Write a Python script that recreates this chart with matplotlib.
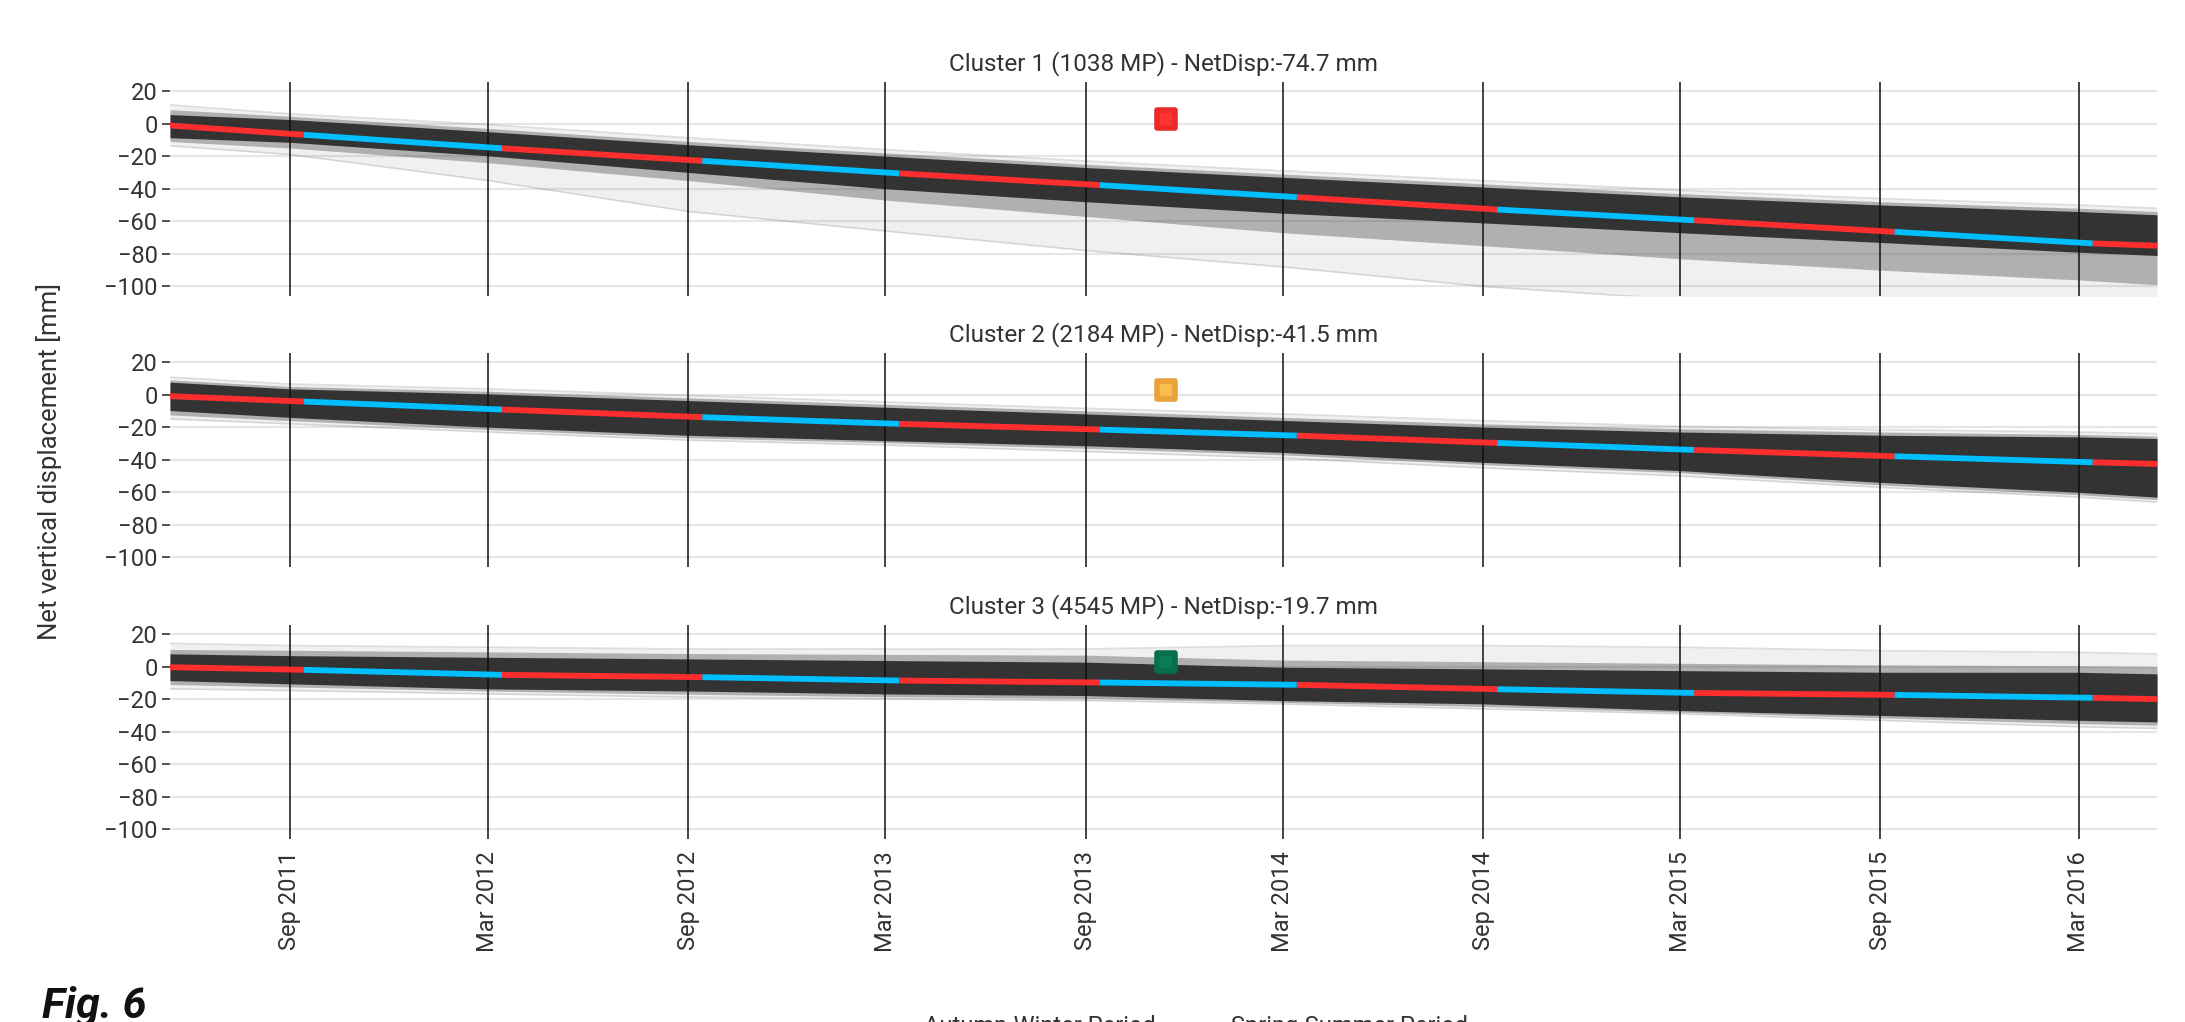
import numpy as np
import pandas as pd
import matplotlib
matplotlib.use("Agg")
import matplotlib.pyplot as plt
from matplotlib.lines import Line2D
from matplotlib.markers import MarkerStyle

plt.rcParams['font.family'] = ['Roboto', 'DejaVu Sans']

# ---- data ----
titles = ["Cluster 1 (1038 MP) - NetDisp:-74.7 mm",
          "Cluster 2 (2184 MP) - NetDisp:-41.5 mm",
          "Cluster 3 (4545 MP) - NetDisp:-19.7 mm"]

tick_dates = pd.to_datetime(["2011-09-01", "2012-03-01", "2012-09-01", "2013-03-01", "2013-09-01",
                             "2014-03-01", "2014-09-01", "2015-03-01", "2015-09-01", "2016-03-01"])
tick_labels = ["Sep 2011", "Mar 2012", "Sep 2012", "Mar 2013", "Sep 2013",
               "Mar 2014", "Sep 2014", "Mar 2015", "Sep 2015", "Mar 2016"]

# mean line: start, season changes, end
mean_dates = pd.to_datetime(["2011-05-14", "2011-09-14", "2012-03-14", "2012-09-14", "2013-03-14",
                             "2013-09-14", "2014-03-14", "2014-09-14", "2015-03-14", "2015-09-14",
                             "2016-03-14", "2016-05-12"])
c1_mean = [-1.2, -6.9, -15.2, -22.9, -30.6, -37.8, -45.2, -52.8, -59.4, -66.5, -73.6, -75.0]
c2_mean = [-1.0, -4.3, -9.2, -13.9, -18.0, -21.5, -25.2, -29.7, -34.0, -37.9, -41.6, -42.6]
c3_mean = [-0.4, -2.0, -5.1, -6.5, -8.6, -9.8, -11.2, -13.9, -16.2, -17.4, -19.2, -20.0]

# spread of the individual MP series (core / medium / faint envelopes)
band_dates = pd.to_datetime(["2011-05-14", "2011-09-01", "2012-03-01", "2012-09-01", "2013-03-01",
                             "2013-09-01", "2014-03-01", "2014-09-01", "2015-03-01", "2015-09-01",
                             "2016-03-01", "2016-05-12"])
c1_core_top = [5.5, 2.5, -5.0, -13.0, -20.0, -27.0, -33.0, -39.0, -45.0, -50.0, -54.0, -56.0]
c1_core_bot = [-8.7, -11.5, -19.8, -30.0, -40.0, -48.0, -55.0, -61.0, -67.0, -73.0, -79.0, -81.0]
c1_mid_top = [8.5, 4.5, -3.0, -11.0, -18.0, -25.0, -31.0, -37.0, -43.0, -48.0, -52.0, -54.0]
c1_mid_bot = [-11.0, -15.0, -24.0, -35.0, -47.0, -57.0, -67.0, -75.0, -83.0, -90.0, -96.0, -99.0]
c1_faint_top = [11.5, 6.0, -0.6, -8.7, -16.0, -23.0, -29.0, -35.0, -41.0, -46.0, -50.0, -52.0]
c1_faint_bot = [-13.7, -19.0, -35.0, -54.0, -66.0, -78.0, -88.0, -100.0, -108.0, -112.0, -115.0, -118.0]

c2_core_top = [7.6, 3.5, 0.4, -3.7, -7.8, -11.9, -15.9, -20.0, -23.0, -25.0, -26.0, -27.0]
c2_core_bot = [-9.8, -14.0, -20.0, -25.0, -28.3, -31.4, -35.5, -41.6, -46.7, -53.9, -60.0, -63.0]
c2_mid_top = [9.0, 5.0, 2.0, -2.0, -6.0, -10.0, -14.0, -18.0, -21.0, -23.0, -24.5, -25.5]
c2_mid_bot = [-12.5, -16.0, -21.5, -26.5, -29.5, -33.0, -37.0, -43.0, -48.0, -55.5, -61.5, -64.5]
c2_faint_top = [10.7, 6.5, 3.5, -0.5, -4.5, -8.5, -11.9, -16.0, -19.5, -21.5, -23.0, -24.0]
c2_faint_bot = [-15.0, -18.0, -23.0, -28.0, -31.0, -35.0, -39.0, -45.0, -50.0, -57.0, -63.0, -66.0]

c3_core_top = [7.8, 6.7, 5.7, 4.7, 3.7, 2.7, -0.4, -1.4, -2.5, -3.5, -3.5, -4.5]
c3_core_bot = [-8.6, -10.6, -13.7, -15.0, -16.8, -17.8, -20.9, -22.9, -27.0, -30.0, -33.0, -34.0]
c3_mid_top = [10.5, 10.0, 9.0, 8.0, 7.5, 7.0, 4.0, 3.0, 2.0, 1.0, 0.5, 0.0]
c3_mid_bot = [-11.0, -12.5, -15.0, -17.0, -18.5, -19.5, -22.0, -24.5, -28.0, -31.5, -35.0, -36.0]
c3_faint_top = [14.3, 12.9, 11.9, 10.8, 10.8, 10.8, 12.9, 12.9, 11.9, 9.8, 8.8, 7.8]
c3_faint_bot = [-13.7, -14.7, -16.8, -18.8, -19.8, -20.9, -23.0, -26.0, -29.0, -33.0, -37.0, -38.0]

marker_date = pd.to_datetime(["2013-11-14"])
marker_y = [3.0, 2.6, 2.6]
marker_colors = ["#ff3333", "#f8bf4f", "#0a7d55"]
marker_edges = ["#e82a2a", "#e9a23c", "#0a6e4a"]

means = [c1_mean, c2_mean, c3_mean]
bands = [(c1_core_top, c1_core_bot, c1_mid_top, c1_mid_bot, c1_faint_top, c1_faint_bot),
         (c2_core_top, c2_core_bot, c2_mid_top, c2_mid_bot, c2_faint_top, c2_faint_bot),
         (c3_core_top, c3_core_bot, c3_mid_top, c3_mid_bot, c3_faint_top, c3_faint_bot)]

RED = "#ff2e2e"
BLUE = "#00bfff"
BUNDLE = "#2f2f2f"
TXT = "#333333"
FS = 17

W, H = 2185, 1022
fig = plt.figure(figsize=(W / 100, H / 100), dpi=100)

left = 170 / W
width = (2157 - 170) / W
tops = [81.7, 352.7, 624.7]
hgt = 214

for i in range(3):
    ax = fig.add_axes([left, 1 - (tops[i] + hgt) / H, width, hgt / H])
    ct, cb, mt, mb, ft, fb = bands[i]
    # faint outliers, medium spread, dense core
    ax.fill_between(band_dates, ft, fb, color=BUNDLE, alpha=0.07, lw=0, zorder=2)
    ax.plot(band_dates, ft, color=BUNDLE, alpha=0.15, lw=1.2, zorder=2)
    ax.plot(band_dates, fb, color=BUNDLE, alpha=0.15, lw=1.2, zorder=2)
    ax.fill_between(band_dates, mt, mb, color=BUNDLE, alpha=0.33, lw=0, zorder=3)
    ax.fill_between(band_dates, ct, cb, color=BUNDLE, alpha=0.97, lw=0, zorder=4)

    # mean line, coloured by season
    m = means[i]
    for k in range(len(mean_dates) - 1):
        col = RED if k % 2 == 0 else BLUE
        ax.plot(mean_dates[k:k + 2], m[k:k + 2], color=col, lw=4.2,
                solid_capstyle='butt', zorder=6)

    ax.plot(marker_date, [marker_y[i]], linestyle='none',
            marker=MarkerStyle('s', joinstyle='round'), ms=12.5,
            mfc=marker_colors[i], mec=marker_edges[i], mew=4, zorder=7)

    ax.set_xlim(band_dates[0], band_dates[-1])
    ax.set_ylim(-105.7, 25.7)
    ax.set_yticks([20, 0, -20, -40, -60, -80, -100])
    ax.set_xticks(tick_dates)
    if i == 2:
        ax.set_xticklabels(tick_labels, rotation=90, fontsize=FS, color=TXT)
    else:
        ax.set_xticklabels([])
    ax.tick_params(axis='x', length=0, pad=9)
    ax.tick_params(axis='y', length=6, width=1.3, color='#444444', labelsize=FS,
                   labelcolor=TXT, pad=3)
    ax.grid(axis='y', color='#e6e6e6', lw=1.6)
    ax.grid(axis='x', color='#111111', lw=1.1)
    ax.set_axisbelow(True)
    ax.xaxis.set_zorder(5)  # vertical lines sit over the bundle, under the mean line
    for s in ax.spines.values():
        s.set_visible(False)
    ax.set_title(titles[i], fontsize=17.5, color=TXT, pad=8)

fig.text(49 / W, 1 - 461 / H, "Net vertical displacement [mm]", rotation=90,
         ha='center', va='center', fontsize=18.5, color=TXT)

fig.text(42 / W, 1 - 986 / H, "Fig. 6", ha='left', va='top', fontsize=31,
         fontweight='bold', fontstyle='italic',
         family=['Liberation Sans Narrow', 'Roboto', 'DejaVu Sans'], color='#111111')

handles = [Line2D([0], [0], color=BLUE, lw=3), Line2D([0], [0], color=RED, lw=3)]
fig.legend(handles, ["Autumn-Winter Period", "Spring-Summer Period"], loc='center',
           bbox_to_anchor=(0.537, -0.004), ncol=2, frameon=False, fontsize=FS,
           handlelength=1.3, handletextpad=0.6, columnspacing=1.3, labelcolor=TXT)

fig.savefig("out.png", dpi=100)
